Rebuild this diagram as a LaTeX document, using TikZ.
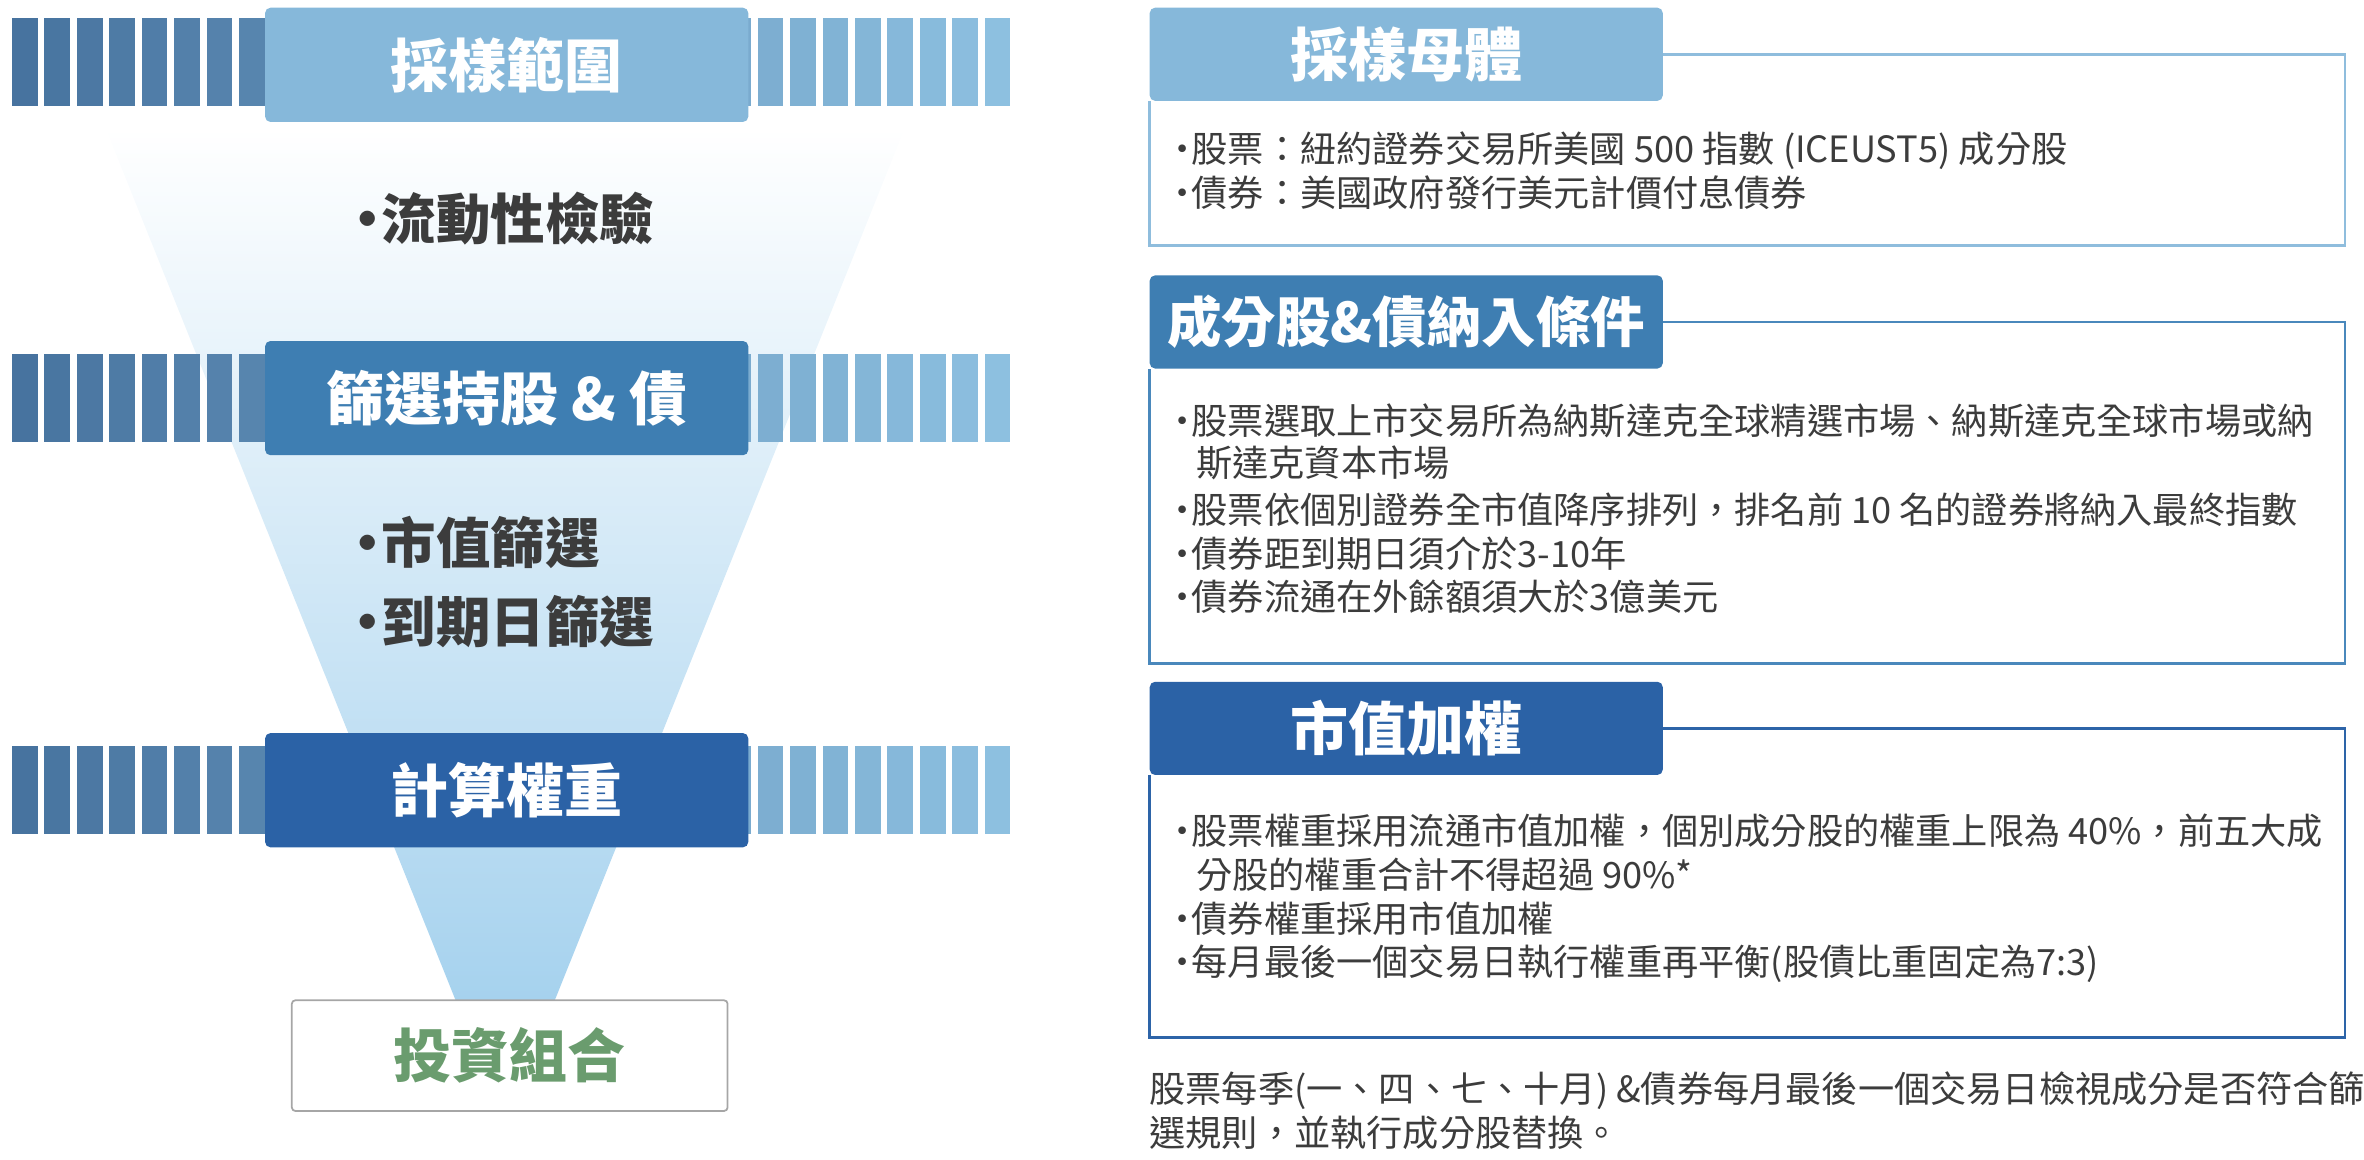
\documentclass[tikz,border=0pt]{standalone}
\usepackage{fontspec}
\setmainfont{Noto Sans CJK TC}
\definecolor{stripeL}{HTML}{47739F}
\definecolor{stripeR}{HTML}{8DC0E0}
\definecolor{hdrA}{HTML}{86B8DA}
\definecolor{hdrB}{HTML}{3E7EB2}
\definecolor{hdrC}{HTML}{2B62A6}
\definecolor{frameA}{HTML}{8FBDDD}
\definecolor{frameB}{HTML}{4A88BC}
\definecolor{frameC}{HTML}{2D64A8}
\definecolor{txtgray}{HTML}{3C3C3C}
\definecolor{mixgreen}{HTML}{6A9C6E}
\definecolor{funnelbot}{HTML}{A6D2EE}
\newcommand{\bul}{·\kern-0.25em}
\begin{document}
\begin{tikzpicture}[x=0.03016cm, y=-0.03016cm,
    stagebox/.style={rounded corners=3, minimum width=275pt, minimum height=65pt,
      text=white, font=\fontsize{33}{36}\selectfont\bfseries},
    hdrbox/.style={rounded corners=3, minimum width=292pt, minimum height=53pt,
      inner xsep=1pt, text=white, font=\fontsize{33}{36}\selectfont\bfseries},
    funneltext/.style={text=txtgray, font=\fontsize{31}{34}\selectfont\bfseries, anchor=west},
    bodytext/.style={text=txtgray, font=\fontsize{20.6}{24}\selectfont, anchor=west, inner sep=0},
    framepath/.style={line width=1.6pt}]
  \useasboundingbox (0,0) rectangle (1567.6,769.2);
  % funnel
  \shade[top color=white, bottom color=funnelbot]
    (70,85) -- (600,85) -- (368,663) -- (302,663) -- cycle;
  % stripes behind the stage boxes
  \foreach \ytop in {12,235,495}{
    \foreach \i in {0,...,30}{
      \pgfmathsetmacro\mixval{100-\i*100/30}
      \fill[stripeL!\mixval!stripeR] (8+\i*21.5,\ytop) rectangle ++(17,58);
    }
  }
  % stage boxes
  \node[stagebox, fill=hdrA] (range) at (336,43) {採樣範圍};
  \node[stagebox, fill=hdrB] (screen) at (336,264) {篩選持股 \& 債};
  \node[stagebox, fill=hdrC] (weight) at (336,524) {計算權重};
  \node[draw=gray!70, line width=1pt, rounded corners=2, minimum width=248pt, minimum height=63pt,
    text=mixgreen, font=\fontsize{33}{36}\selectfont\bfseries] (port) at (338,700) {投資組合};
  \node[funneltext] (liq) at (222,145) {\bul 流動性檢驗};
  \node[funneltext] (mcap) at (222,360) {\bul 市值篩選};
  \node[funneltext] (mat) at (222,412) {\bul 到期日篩選};
  % right side headers
  \node[hdrbox, fill=hdrA] (univ) at (932.5,36) {採樣母體};
  \node[hdrbox, fill=hdrB, font=\fontsize{31}{34}\selectfont\bfseries] (incl) at (932.5,213.5) {成分股\&債納入條件};
  \node[hdrbox, fill=hdrC] (cap) at (932.5,483) {市值加權};
  % frames
  \draw[framepath, frameA] (univ.east) -| (1555,163) -| (univ.south west);
  \draw[framepath, frameB] (incl.east) -| (1555,440) -| (incl.south west);
  \draw[framepath, frameC] (cap.east) -| (1555,688) -| (cap.south west);
  % body texts
  \node[bodytext] (u1) at (772,100) {\bul 股票：紐約證券交易所美國 500 指數 (ICEUST5) 成分股};
  \node[bodytext] (u2) at (772,128) {\bul 債券：美國政府發行美元計價付息債券};
  \node[bodytext] (c1) at (772,279) {\bul 股票選取上市交易所為納斯達克全球精選市場、納斯達克全球市場或納};
  \node[bodytext] (c1b) at (793,307) {斯達克資本市場};
  \node[bodytext] (c2) at (772,338) {\bul 股票依個別證券全市值降序排列，排名前 10 名的證券將納入最終指數};
  \node[bodytext] (c3) at (772,367) {\bul 債券距到期日須介於3-10年};
  \node[bodytext] (c4) at (772,396) {\bul 債券流通在外餘額須大於3億美元};
  \node[bodytext] (w1) at (772,551) {\bul 股票權重採用流通市值加權，個別成分股的權重上限為 40\%，前五大成};
  \node[bodytext] (w1b) at (793,580) {分股的權重合計不得超過 90\%*};
  \node[bodytext] (w2) at (772,609) {\bul 債券權重採用市值加權};
  \node[bodytext] (w3) at (772,639) {\bul 每月最後一個交易日執行權重再平衡(股債比重固定為7:3)};
  \node[bodytext] (f1) at (762,723) {股票每季(一、四、七、十月) \&債券每月最後一個交易日檢視成分是否符合篩};
  \node[bodytext] (f2) at (762,751) {選規則，並執行成分股替換。};
\end{tikzpicture}
\end{document}
